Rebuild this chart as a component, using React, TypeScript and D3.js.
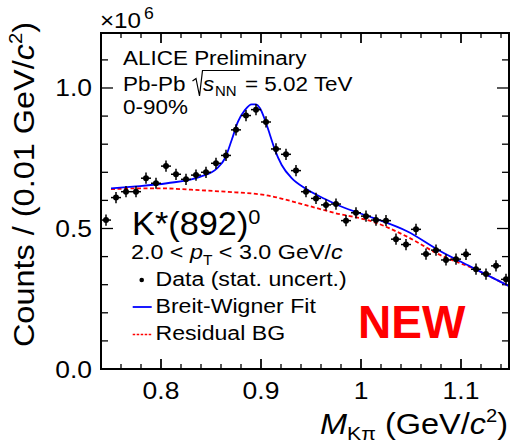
import React from "react";
import * as d3 from "d3";

// Bin centres (GeV/c^2)
const binCenters = [
  0.745, 0.755, 0.765, 0.775, 0.785, 0.795, 0.805, 0.815, 0.825, 0.835,
  0.845, 0.855, 0.865, 0.875, 0.885, 0.895, 0.905, 0.915, 0.925, 0.935,
  0.945, 0.955, 0.965, 0.975, 0.985, 0.995, 1.005, 1.015, 1.025, 1.035,
  1.045, 1.055, 1.065, 1.075, 1.085, 1.095, 1.105, 1.115, 1.125, 1.135, 1.145,
];
// Counts (x10^6)
const counts = [
  0.530, 0.610, 0.631, 0.631, 0.679, 0.661, 0.722, 0.693, 0.675, 0.690,
  0.700, 0.732, 0.760, 0.851, 0.902, 0.923, 0.879, 0.783, 0.764, 0.706,
  0.631, 0.607, 0.584, 0.587, 0.528, 0.556, 0.544, 0.530, 0.528, 0.462,
  0.443, 0.497, 0.409, 0.423, 0.388, 0.391, 0.408, 0.355, 0.338, 0.367, 0.319,
];
const statErr = [
  0.02, 0.02, 0.02, 0.02, 0.02, 0.02, 0.02, 0.02, 0.02, 0.02,
  0.02, 0.02, 0.02, 0.02, 0.02, 0.02, 0.02, 0.02, 0.02, 0.02,
  0.02, 0.02, 0.02, 0.02, 0.02, 0.02, 0.02, 0.02, 0.02, 0.02,
  0.02, 0.02, 0.02, 0.02, 0.02, 0.02, 0.02, 0.02, 0.02, 0.02, 0.02,
];
const binHalfWidth = 0.005;

// Breit-Wigner fit curve
const fitMass = [
  0.75, 0.772, 0.806, 0.839, 0.856, 0.864, 0.8707, 0.877, 0.884, 0.8907,
  0.8947, 0.899, 0.904, 0.909, 0.914, 0.9207, 0.9307, 0.944, 0.964, 0.979,
  1.012, 1.046, 1.079, 1.112, 1.148,
];
const fitCounts = [
  0.643, 0.649, 0.661, 0.684, 0.714, 0.750, 0.815, 0.880, 0.922, 0.942,
  0.942, 0.928, 0.886, 0.833, 0.779, 0.726, 0.679, 0.643, 0.605, 0.580,
  0.538, 0.490, 0.420, 0.360, 0.295,
];
// Residual background
const bgMass = [0.75, 0.78, 0.80, 0.83, 0.864, 0.904, 0.944, 0.974, 1.012, 1.046, 1.079, 1.112, 1.148];
const bgCounts = [0.640, 0.643, 0.643, 0.638, 0.631, 0.619, 0.584, 0.555, 0.524, 0.471, 0.406, 0.358, 0.295];

const xMajorTicks = [0.8, 0.9, 1.0, 1.1];
const xTickLabels = ["0.8", "0.9", "1", "1.1"];
const yMajorTicks = [0, 0.5, 1.0];
const yTickLabels = ["0.0", "0.5", "1.0"];

const FONT = "'Liberation Sans', Arial, Helvetica, sans-serif";

type STProps = {
  x: number;
  y: number;
  size: number;
  sx?: number;
  anchor?: "start" | "middle" | "end";
  rotate?: number;
  fill?: string;
  weight?: string;
  italic?: boolean;
  children?: React.ReactNode;
};
function ST({ x, y, size, sx = 1, anchor = "start", rotate = 0, fill = "#000", weight, italic, children }: STProps) {
  return (
    <g transform={`translate(${x},${y}) rotate(${rotate}) scale(${sx},1)`}>
      <text
        x={0}
        y={0}
        fontSize={size}
        textAnchor={anchor}
        fill={fill}
        fontWeight={weight}
        fontStyle={italic ? "italic" : undefined}
      >
        {children}
      </text>
    </g>
  );
}

export default function App() {
  const left = 101, right = 509, top = 33, bottom = 369;
  const x = d3.scaleLinear().domain([0.74, 1.148]).range([left, right]);
  const y = d3.scaleLinear().domain([0, 1.1957]).range([bottom, top]);

  const xMinor = d3.range(0.74, 1.1481, 0.02).map((v) => +v.toFixed(3));
  const yMinor = d3.range(0, 1.19, 0.1).map((v) => +v.toFixed(3));

  const lineGen = d3
    .line<[number, number]>()
    .x((d) => x(d[0]))
    .y((d) => y(d[1]))
    .curve(d3.curveMonotoneX);
  const fitPath = lineGen(fitMass.map((m, i) => [m, fitCounts[i]] as [number, number]));
  const bgPath = lineGen(bgMass.map((m, i) => [m, bgCounts[i]] as [number, number]));

  const isMajorX = (v: number) => xMajorTicks.some((t) => Math.abs(t - v) < 1e-6);
  const isMajorY = (v: number) => yMajorTicks.some((t) => Math.abs(t - v) < 1e-6);

  return (
    <svg
      width={514}
      height={446}
      style={{ position: "absolute", left: 0, top: 0, background: "#fff" }}
      fontFamily={FONT}
    >
      <rect x={0} y={0} width={514} height={446} fill="#fff" />
      <defs>
        <clipPath id="plotclip">
          <rect x={left} y={top} width={right - left} height={bottom - top} />
        </clipPath>
      </defs>

      {/* ticks */}
      <g stroke="#000" strokeWidth={1.3}>
        {xMinor.map((v) => {
          const len = isMajorX(v) ? 10 : 5;
          return (
            <g key={"xt" + v}>
              <line x1={x(v)} x2={x(v)} y1={bottom} y2={bottom - len} />
              <line x1={x(v)} x2={x(v)} y1={top} y2={top + len} />
            </g>
          );
        })}
        {xMajorTicks.map((v) => (
          <g key={"xM" + v}>
            <line x1={x(v)} x2={x(v)} y1={bottom} y2={bottom - 10} />
            <line x1={x(v)} x2={x(v)} y1={top} y2={top + 10} />
          </g>
        ))}
        {yMinor.map((v) => {
          const len = isMajorY(v) ? 12 : 7;
          return (
            <g key={"yt" + v}>
              <line x1={left} x2={left + len} y1={y(v)} y2={y(v)} />
              <line x1={right} x2={right - len} y1={y(v)} y2={y(v)} />
            </g>
          );
        })}
      </g>

      {/* curves */}
      <g clipPath="url(#plotclip)">
        <path d={bgPath || ""} fill="none" stroke="#ff0000" strokeWidth={1.8} strokeDasharray="4,2.5" />
        <path d={fitPath || ""} fill="none" stroke="#0000ff" strokeWidth={1.8} />
      </g>

      {/* data */}
      <g clipPath="url(#plotclip)">
        {binCenters.map((m, i) => (
          <g key={"p" + i} stroke="#000" strokeWidth={1.5}>
            <line x1={x(m - binHalfWidth)} x2={x(m + binHalfWidth)} y1={y(counts[i])} y2={y(counts[i])} />
            <line x1={x(m)} x2={x(m)} y1={y(counts[i] - statErr[i])} y2={y(counts[i] + statErr[i])} />
            <circle cx={x(m)} cy={y(counts[i])} r={3} fill="#000" stroke="none" />
          </g>
        ))}
      </g>

      {/* frame */}
      <rect x={left} y={top} width={right - left} height={bottom - top} fill="none" stroke="#000" strokeWidth={2} />

      {/* tick labels */}
      {xMajorTicks.map((v, i) => (
        <ST key={"xl" + v} x={x(v)} y={399} size={23} sx={1.15} anchor="middle">
          {xTickLabels[i]}
        </ST>
      ))}
      {yMajorTicks.map((v, i) => (
        <ST key={"yl" + v} x={92} y={y(v) + 8.5} size={23} sx={1.15} anchor="end">
          {yTickLabels[i]}
        </ST>
      ))}

      {/* x10^6 */}
      <ST x={100} y={28} size={22} sx={1.1}>×10</ST>
      <ST x={144} y={19} size={16} sx={1.1}>6</ST>

      {/* axis titles */}
      <ST x={508} y={434} size={29} sx={1.12} anchor="end">
        <tspan fontStyle="italic">M</tspan>
        <tspan fontSize={19} dy={6}>Kπ</tspan>
        <tspan dy={-6}> (GeV/</tspan>
        <tspan fontStyle="italic">c</tspan>
        <tspan fontSize={18} dy={-12}>2</tspan>
        <tspan dy={12}>)</tspan>
      </ST>
      <ST x={33.5} y={22} size={29} sx={1.12} anchor="end" rotate={-90}>
        <tspan>Counts / (0.01 GeV/</tspan>
        <tspan fontStyle="italic">c</tspan>
        <tspan fontSize={18} dy={-12}>2</tspan>
        <tspan dy={12}>)</tspan>
      </ST>

      {/* labels */}
      <ST x={123} y={65} size={21} sx={1.07}>ALICE Preliminary</ST>
      <ST x={123} y={90.5} size={21} sx={1.07}>Pb-Pb</ST>
      <path d="M192.5,81 L196,78.5 L199.5,96 L202.5,70.5 L240,70.5" fill="none" stroke="#000" strokeWidth={1.2} />
      <ST x={203} y={90.5} size={21} sx={1.07} italic>s</ST>
      <ST x={215} y={96} size={14} sx={1.07}>NN</ST>
      <ST x={245} y={90.5} size={21} sx={1.07}>= 5.02 TeV</ST>
      <ST x={123} y={114} size={21} sx={1.07}>0-90%</ST>

      <ST x={132} y={235} size={33} sx={1.04}>
        K*(892)
        <tspan fontSize={21} dy={-11}>0</tspan>
      </ST>
      <ST x={131} y={258.5} size={21} sx={1.11}>
        2.0 &lt; <tspan fontStyle="italic">p</tspan>
        <tspan fontSize={14} dy={6}>T</tspan>
        <tspan dy={-6}> &lt; 3.0 GeV/</tspan>
        <tspan fontStyle="italic">c</tspan>
      </ST>

      {/* legend */}
      <circle cx={141.7} cy={280} r={2.3} fill="#000" />
      <line x1={132.7} x2={151.7} y1={307} y2={307} stroke="#0000ff" strokeWidth={1.8} />
      <line x1={132.7} x2={151.7} y1={334.5} y2={334.5} stroke="#ff0000" strokeWidth={1.5} strokeDasharray="2.5,1.5" />
      <ST x={155.5} y={286} size={21} sx={1.1}>Data (stat. uncert.)</ST>
      <ST x={155.5} y={313} size={21} sx={1.1}>Breit-Wigner Fit</ST>
      <ST x={155.5} y={340} size={21} sx={1.1}>Residual BG</ST>

      <ST x={358} y={338} size={46} weight="bold" fill="#ff0000">NEW</ST>
    </svg>
  );
}
